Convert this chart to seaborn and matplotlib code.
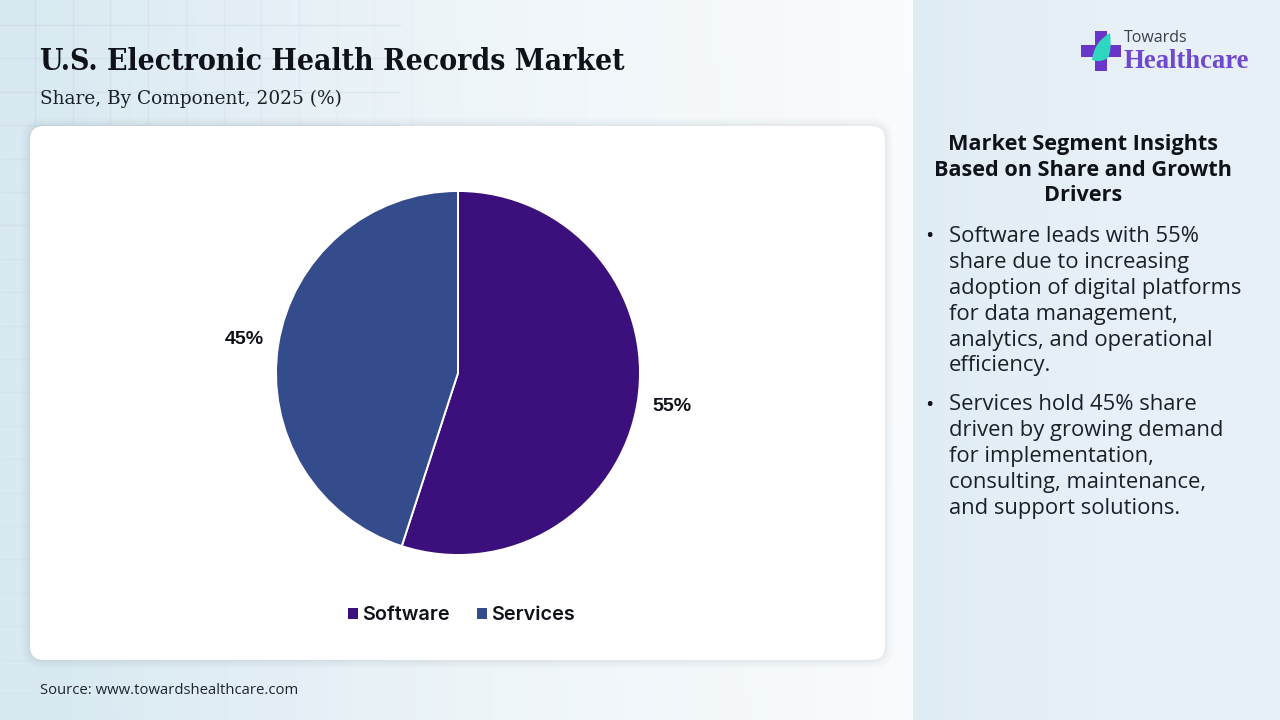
import numpy as np
import matplotlib
matplotlib.use("Agg")
import matplotlib.pyplot as plt
from matplotlib.patches import FancyBboxPatch, Rectangle, PathPatch
from matplotlib.path import Path
from matplotlib.colors import LinearSegmentedColormap
import seaborn as sns

categories = ["Software", "Services"]
shares = [55, 45]
share_labels = ["55%", "45%"]
palette = ["#3B0F7C", "#354C8C"]
title = "U.S. Electronic Health Records Market"
subtitle = "Share, By Component, 2025 (%)"
source = "Source: www.towardshealthcare.com"
panel_title = "Market Segment Insights\nBased on Share and Growth\nDrivers"
bullet_1 = ["Software leads with 55%", "share due to increasing", "adoption of digital platforms",
            "for data management,", "analytics, and operational", "efficiency."]
bullet_2 = ["Services hold 45% share", "driven by growing demand", "for implementation,",
            "consulting, maintenance,", "and support solutions."]

sns.set_theme(style="white")
plt.rcParams["font.family"] = ["Open Sans", "DejaVu Sans"]
INK = "#0F1218"

fig = plt.figure(figsize=(12.8, 7.2), dpi=100)
bg = fig.add_axes([0, 0, 1, 1], zorder=0)
bg.set_xlim(0, 1280); bg.set_ylim(720, 0); bg.axis("off")

cmap = LinearSegmentedColormap.from_list("wash", ["#D8E9F1", "#EEF5F9", "#FAFCFE"])
gx = np.linspace(0, 1, 256)[None, :] - 0.04 * np.linspace(0, 1, 144)[:, None]
bg.imshow(gx, extent=(0, 913, 720, 0), cmap=cmap, aspect="auto", zorder=0, vmin=0, vmax=1)
panel_cmap = LinearSegmentedColormap.from_list("panel", ["#E0ECF3", "#E7F0F7", "#E8F0F7"])
bg.imshow(np.linspace(0, 1, 64)[None, :], extent=(913, 1280, 720, 0), cmap=panel_cmap,
          aspect="auto", zorder=1, vmin=0, vmax=1)
bg.set_xlim(0, 1280); bg.set_ylim(720, 0)

for i, x in enumerate(np.arange(35, 420, 37.7)):
    bg.plot([x, x], [0, 126], color="#CBD9E1", lw=1, alpha=max(0.1, 0.55 - i * 0.05), zorder=1)
for i, y in enumerate(np.arange(25, 720, 33.4)):
    bg.plot([0, 30 if y > 126 else 400], [y, y], color="#CBD9E1", lw=1, alpha=max(0.25, 0.5 - i * 0.02), zorder=1)

for grow, a in [(9, .012), (7, .016), (5, .02), (3, .025), (1.5, .03)]:
    bg.add_patch(FancyBboxPatch((30 - grow, 126 - grow), 855 + 2 * grow, 534 + 2 * grow,
                                boxstyle=f"round,pad=0,rounding_size={14 + grow}",
                                fc="#50606E", ec="none", alpha=a, zorder=2))
bg.add_patch(FancyBboxPatch((30, 126), 855, 534, boxstyle="round,pad=0,rounding_size=14",
                            fc="white", ec="none", zorder=3))

bg.text(40, 61, title, fontsize=21.6, fontweight="bold", family="DejaVu Serif", fontstretch="condensed",
        color=INK, va="center", ha="left", zorder=5)
bg.text(40, 99, subtitle, fontsize=13.3, family="DejaVu Serif", color="#1B2027",
        va="center", ha="left", zorder=5)
bg.text(40, 690, source, fontsize=10.7, color="#20252C", va="center", ha="left", zorder=5)

r = 182
cx, cy = 458, 373
pie_ax = fig.add_axes([(cx - r) / 1280, 1 - (cy + r) / 720, 2 * r / 1280, 2 * r / 720], zorder=3)
wedges, label_texts = pie_ax.pie(
    shares, labels=share_labels, colors=sns.color_palette(palette), startangle=90, counterclock=False,
    radius=1, labeldistance=1.19,
    wedgeprops=dict(edgecolor="white", linewidth=1.4),
    textprops=dict(fontsize=14, fontweight="bold", color=INK, family="Liberation Sans"))
for t in label_texts:
    t.set_ha("center"); t.set_va("center")
pie_ax.set_xlim(-1, 1); pie_ax.set_ylim(-1, 1)
for w in wedges:
    w.set_clip_on(False)

leg = fig.legend(wedges, categories, loc="center", bbox_to_anchor=(461.5 / 1280, 1 - 615.5 / 720),
                 ncol=2, frameon=False, handlelength=0.5, handleheight=0.5, handletextpad=0.22,
                 columnspacing=1.38, prop=dict(size=14.3, weight="semibold", family="Inter"))
for h in leg.get_patches():
    h.set_edgecolor("none")
for t in leg.get_texts():
    t.set_color(INK)

bg.text(1083, 170, panel_title, fontsize=15.6, fontweight="bold", color=INK, ha="center", va="center",
        linespacing=1.27, zorder=5, family="Open Sans")
lh = 25.9
def bullets(lines, y0):
    bg.text(929, y0, "•", fontsize=16, color=INK, ha="center", va="center", zorder=5)
    for k, s in enumerate(lines):
        bg.text(949, y0 + k * lh, s, fontsize=15.8, color="#1B2027", ha="left", va="center", zorder=5)
bullets(bullet_1, 236.5)
bullets(bullet_2, 405)

logo = "#6A35C9"
bg.add_patch(Rectangle((1095, 31), 12, 40, fc=logo, ec="none", zorder=5))
bg.add_patch(Rectangle((1081, 45), 40, 12, fc=logo, ec="none", zorder=5))
leaf = Path([(1092, 60), (1094, 42), (1110, 33), (1112, 50), (1108, 58), (1100, 63), (1092, 60)],
            [Path.MOVETO, Path.CURVE3, Path.CURVE3, Path.CURVE3, Path.CURVE3, Path.CURVE3, Path.CLOSEPOLY])
bg.add_patch(PathPatch(leaf, fc="#2FD6C0", ec="none", zorder=6))
bg.text(1124, 38, "Towards", fontsize=11.5, color="#3B4048", ha="left", va="center", zorder=5)
bg.text(1124, 62, "Healthcare", fontsize=19.2, fontweight="bold", family="Liberation Serif",
        color="#7048D0", ha="left", va="center", zorder=5)

fig.savefig("out.png", dpi=100)
